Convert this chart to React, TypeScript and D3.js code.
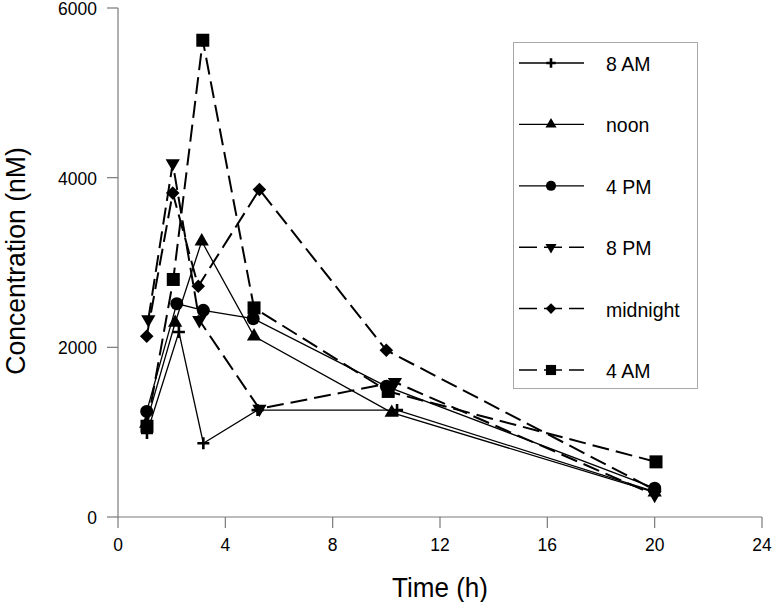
import React from "react";
import * as d3 from "d3";

// ---- data ----
const xTicks = [0, 4, 8, 12, 16, 20, 24];
const yTicks = [0, 2000, 4000, 6000];
const seriesNames = ["8 AM", "noon", "4 PM", "8 PM", "midnight", "4 AM"];

const time8AM = [1.08, 2.27, 3.18, 5.2, 10.4, 20];
const conc8AM = [990, 2180, 870, 1260, 1260, 300];

const timeNoon = [1.05, 2.13, 3.12, 5.07, 10.2, 20];
const concNoon = [1100, 2290, 3250, 2130, 1230, 290];

const time4PM = [1.07, 2.19, 3.18, 5.04, 10.0, 20];
const conc4PM = [1245, 2515, 2436, 2338, 1540, 340];

const time8PM = [1.13, 2.04, 3.03, 5.27, 10.32, 20];
const conc8PM = [2330, 4170, 2320, 1275, 1590, 260];

const timeMidnight = [1.07, 2.04, 2.99, 5.27, 10.0, 20];
const concMidnight = [2130, 3820, 2720, 3860, 1965, 320];

const time4AM = [1.08, 2.06, 3.16, 5.07, 10.07, 20.05];
const conc4AM = [1070, 2800, 5620, 2465, 1480, 650];

const seriesTimes = [time8AM, timeNoon, time4PM, time8PM, timeMidnight, time4AM];
const seriesConcs = [conc8AM, concNoon, conc4PM, conc8PM, concMidnight, conc4AM];
const seriesShapes = ["plus", "triUp", "circle", "triDown", "diamond", "square"];
const seriesDashed = [false, false, false, true, true, true];

const FONT = "'Liberation Sans', Arial, Helvetica, sans-serif";

function Marker({ shape, cx, cy, big }: { shape: string; cx: number; cy: number; big: boolean }) {
  const k = big ? 1 : 0.78;
  if (shape === "plus") {
    const s = 6 * k;
    return (
      <path
        d={`M${cx - s},${cy}H${cx + s}M${cx},${cy - s}V${cy + s}`}
        stroke="#000"
        strokeWidth={2.6}
        fill="none"
      />
    );
  }
  if (shape === "circle") {
    return <circle cx={cx} cy={cy} r={6.5 * k} fill="#000" />;
  }
  let sym: any = d3.symbolSquare;
  let size = 169 * k * k;
  let rot = 0;
  if (shape === "triUp") {
    sym = d3.symbolTriangle;
    size = 88 * k * k;
  } else if (shape === "triDown") {
    sym = d3.symbolTriangle;
    size = 88 * k * k;
    rot = 180;
  } else if (shape === "diamond") {
    sym = d3.symbolSquare;
    size = 92 * k * k;
    rot = 45;
  }
  const d = d3.symbol().type(sym).size(size)() as string;
  return <path d={d} transform={`translate(${cx},${cy}) rotate(${rot})`} fill="#000" />;
}

export default function App() {
  const W = 774;
  const H = 602;
  const x = d3.scaleLinear().domain([0, 24]).range([118, 762]);
  const y = d3.scaleLinear().domain([0, 6000]).range([517, 8]);
  const line = d3
    .line<[number, number]>()
    .x((d) => x(d[0]))
    .y((d) => y(d[1]));
  const axisColor = "#7a7a7a";
  const x0 = x(0);
  const y0 = y(0);

  const legendX1 = 519;
  const legendX2 = 584;
  const legendMarkX = 551;
  const legendTop = 63;
  const legendStep = 61.4;

  return (
    <svg
      width={W}
      height={H}
      style={{ position: "absolute", left: 0, top: 0, background: "#fff" }}
      fontFamily={FONT}
    >
      <rect x={0} y={0} width={W} height={H} fill="#fff" />

      {/* axes */}
      <line x1={x0} x2={x0} y1={y(6000)} y2={y0} stroke={axisColor} strokeWidth={1.2} />
      <line x1={x0} x2={x(24)} y1={y0} y2={y0} stroke={axisColor} strokeWidth={1.2} />
      {yTicks.map((t) => (
        <g key={"y" + t}>
          <line x1={x0 - 11} x2={x0} y1={y(t)} y2={y(t)} stroke={axisColor} strokeWidth={1.2} />
          <text
            transform={`translate(97,${y(t) + 7}) scale(0.92,1)`}
            textAnchor="end"
            fontSize={19}
            fill="#000"
          >
            {t}
          </text>
        </g>
      ))}
      {xTicks.map((t) => (
        <g key={"x" + t}>
          <line x1={x(t)} x2={x(t)} y1={y0} y2={y0 + 11} stroke={axisColor} strokeWidth={1.2} />
          <text
            transform={`translate(${x(t)},551) scale(0.92,1)`}
            textAnchor="middle"
            fontSize={19}
            fill="#000"
          >
            {t}
          </text>
        </g>
      ))}

      {/* axis titles */}
      <text
        transform={`translate(440,597) scale(0.93,1)`}
        textAnchor="middle"
        fontSize={28}
        fill="#000"
      >
        Time (h)
      </text>
      <text
        transform={`translate(25,261) rotate(-90) scale(0.95,1)`}
        textAnchor="middle"
        fontSize={28}
        fill="#000"
      >
        Concentration (nM)
      </text>

      {/* series */}
      {seriesNames.map((name, i) => {
        const pts: [number, number][] = seriesTimes[i].map((t, j) => [t, seriesConcs[i][j]]);
        return (
          <g key={name}>
            <path
              d={line(pts) as string}
              fill="none"
              stroke="#000"
              strokeWidth={seriesDashed[i] ? 2 : 1.3}
              strokeDasharray={seriesDashed[i] ? "17,7" : undefined}
            />
            {pts.map((p, j) => (
              <Marker key={j} shape={seriesShapes[i]} cx={x(p[0])} cy={y(p[1])} big={true} />
            ))}
          </g>
        );
      })}

      {/* legend */}
      <rect x={513.5} y={42.5} width={184} height={346} fill="#fff" stroke="#a8a8a8" strokeWidth={1} />
      {seriesNames.map((name, i) => {
        const ry = legendTop + i * legendStep;
        return (
          <g key={"leg" + name}>
            <line
              x1={legendX1}
              x2={legendX2}
              y1={ry}
              y2={ry}
              stroke="#000"
              strokeWidth={seriesDashed[i] ? 1.5 : 1.3}
              strokeDasharray={seriesDashed[i] ? "18,7" : undefined}
            />
            <Marker shape={seriesShapes[i]} cx={legendMarkX} cy={ry} big={false} />
            <text
              transform={`translate(606,${ry + 8}) scale(0.93,1)`}
              fontSize={21}
              fill="#000"
            >
              {name}
            </text>
          </g>
        );
      })}
    </svg>
  );
}
